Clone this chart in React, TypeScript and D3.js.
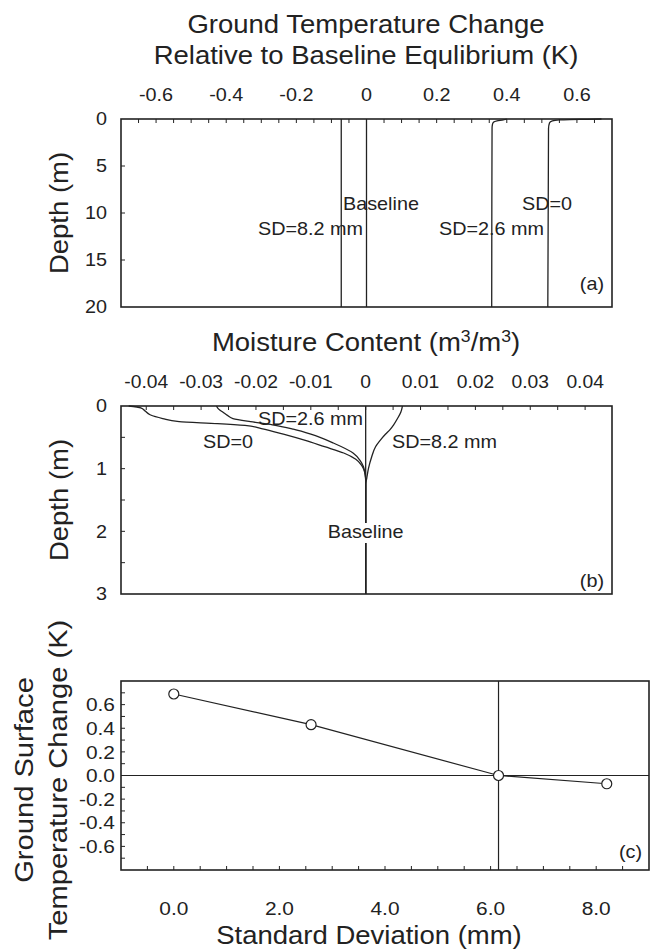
import React from "react";
import * as d3 from "d3";

// ---------- data ----------
// Panel (a): ground temperature change vs depth
const tempTickValues = [-0.6, -0.4, -0.2, 0, 0.2, 0.4, 0.6];
const tempTickLabels = ["-0.6", "-0.4", "-0.2", "0", "0.2", "0.4", "0.6"];
const depthATickValues = [0, 5, 10, 15, 20];
const depthATickLabels = ["0", "5", "10", "15", "20"];

const tBaseDepth = [0, 20];
const tBaseVal = [0, 0];
const tSD0Depth = [0, 0.03, 0.06, 0.1, 0.2, 0.4, 1, 20];
const tSD0Val = [0.67, 0.63, 0.58, 0.55, 0.53, 0.522, 0.519, 0.517];
const tSD26Depth = [0, 0.1, 0.2, 0.35, 0.6, 1, 20];
const tSD26Val = [0.4, 0.39, 0.372, 0.362, 0.359, 0.358, 0.357];
const tSD82Depth = [0, 20];
const tSD82Val = [-0.072, -0.072];

// Panel (b): moisture content change vs depth
const moistTickValues = [-0.04, -0.03, -0.02, -0.01, 0, 0.01, 0.02, 0.03, 0.04];
const moistTickLabels = ["-0.04", "-0.03", "-0.02", "-0.01", "0", "0.01", "0.02", "0.03", "0.04"];
const depthBTickValues = [0, 1, 2, 3];
const depthBTickLabels = ["0", "1", "2", "3"];

const mBaseDepth = [0, 3];
const mBaseVal = [0, 0];
const mSD0Depth = [0, 0.03, 0.08, 0.14, 0.2, 0.25, 0.28, 0.31, 0.36, 0.45, 0.55, 0.65, 0.75, 0.85, 0.95, 1.05, 1.15, 3];
const mSD0Val = [-0.0432, -0.041, -0.0402, -0.0393, -0.037, -0.034, -0.027, -0.022, -0.019, -0.015, -0.011, -0.0075, -0.004, -0.0018, -0.0007, -0.0002, 0, 0];
const mSD26Depth = [0, 0.05, 0.1, 0.15, 0.2, 0.25, 0.3, 0.37, 0.45, 0.59, 0.75, 0.87, 0.97, 1.1, 1.2, 3];
const mSD26Val = [-0.0272, -0.0268, -0.026, -0.0252, -0.0242, -0.021, -0.017, -0.0132, -0.01, -0.0059, -0.0023, -0.001, -0.0004, -0.0001, 0, 0];
const mSD82Depth = [0, 0.1, 0.2, 0.3, 0.38, 0.45, 0.52, 0.65, 0.81, 1.0, 1.15, 1.25, 3];
const mSD82Val = [0.0067, 0.0064, 0.0058, 0.0051, 0.0044, 0.0036, 0.0029, 0.0018, 0.0011, 0.0005, 0.0002, 0, 0];

// Panel (c): ground surface temperature change vs SD
const sdValues = [0, 2.6, 6.15, 8.2];
const dTValues = [0.69, 0.43, 0.0, -0.07];
const crossSD = 6.15;
const sdTickValues = [0, 2, 4, 6, 8];
const sdTickLabels = ["0.0", "2.0", "4.0", "6.0", "8.0"];
const dTTickValues = [0.6, 0.4, 0.2, 0, -0.2, -0.4, -0.6];
const dTTickLabels = ["0.6", "0.4", "0.2", "0.0", "-0.2", "-0.4", "-0.6"];

// ---------- style ----------
const FONT = "'Liberation Sans', Arial, Helvetica, sans-serif";
const INK = "#222";
const SX = 1.1;

type TP = {
  x: number; y: number; size: number; anchor?: "start" | "middle" | "end";
  rot?: number; children: React.ReactNode; central?: boolean;
};
function T({ x, y, size, anchor = "start", rot = 0, children, central }: TP) {
  return (
    <text
      transform={`translate(${x},${y}) rotate(${rot}) scale(${SX},1)`}
      fontSize={size}
      fontFamily={FONT}
      fill={INK}
      textAnchor={anchor}
      dy={central ? "0.35em" : undefined}
    >
      {children}
    </text>
  );
}

function zip(d: number[], v: number[]) {
  return d.map((dd, i) => ({ d: dd, v: v[i] }));
}

export default function App() {
  // Panel frames
  const L = 121, R = 612;
  const aTop = 119, aBot = 307;
  const bTop = 406, bBot = 594;
  const cL = 121, cR = 649, cTop = 681, cBot = 870;

  const xA = d3.scaleLinear().domain([-0.7, 0.7]).range([L, R]);
  const yA = d3.scaleLinear().domain([0, 20]).range([aTop, aBot]);
  const xB = d3.scaleLinear().domain([-0.0446, 0.0449]).range([L, R]);
  const yB = d3.scaleLinear().domain([0, 3]).range([bTop, bBot]);
  const xC = d3.scaleLinear().domain([-1, 9]).range([cL, cR]);
  const yC = d3.scaleLinear().domain([-0.8, 0.8]).range([cBot, cTop]);

  const lineA = d3.line<{ d: number; v: number }>().x((p) => xA(p.v)).y((p) => yA(p.d)).curve(d3.curveMonotoneY);
  const lineB = d3.line<{ d: number; v: number }>().x((p) => xB(p.v)).y((p) => yB(p.d)).curve(d3.curveMonotoneY);
  const lineC = d3.line<number>().x((_, i) => xC(sdValues[i])).y((v) => yC(v));

  const aSeries = [
    zip(tBaseDepth, tBaseVal),
    zip(tSD0Depth, tSD0Val),
    zip(tSD26Depth, tSD26Val),
    zip(tSD82Depth, tSD82Val),
  ];
  const bSeries = [
    zip(mBaseDepth, mBaseVal),
    zip(mSD0Depth, mSD0Val),
    zip(mSD26Depth, mSD26Val),
    zip(mSD82Depth, mSD82Val),
  ];

  const aMinor = d3.range(-0.65, 0.66, 0.05);
  const bMinor = d3.range(-0.04, 0.0441, 0.005);
  const aYMinor = [5, 10, 15];
  const bYMinor = [0.5, 1, 1.5, 2, 2.5];
  const cXMinor = d3.range(-0.5, 8.6, 0.5);
  const cYMinor = d3.range(-0.7, 0.71, 0.1);
  const TK = 4;

  const bBaselineX = xB(0);
  const bBaselineY = 538;

  return (
    <svg width={660} height={952} style={{ position: "absolute", left: 0, top: 0 }}>
      <rect width={660} height={952} fill="#fff" />

      {/* ===== Panel (a) ===== */}
      <T x={366} y={33} size={25} anchor="middle">Ground Temperature Change</T>
      <T x={366} y={64} size={25} anchor="middle">Relative to Baseline Equlibrium (K)</T>
      {tempTickValues.map((v, i) => (
        <T key={"at" + i} x={xA(v)} y={101} size={18} anchor="middle">{tempTickLabels[i]}</T>
      ))}
      {aMinor.map((v, i) => (
        <line key={"am" + i} x1={xA(v)} x2={xA(v)} y1={aTop} y2={aTop + TK} stroke={INK} strokeWidth={1} />
      ))}
      {aYMinor.map((v, i) => (
        <line key={"aym" + i} x1={L} x2={L + TK} y1={yA(v)} y2={yA(v)} stroke={INK} strokeWidth={1} />
      ))}
      {depthATickValues.map((v, i) => (
        <T key={"ay" + i} x={107} y={yA(v)} size={18} anchor="end" central>{depthATickLabels[i]}</T>
      ))}
      <T x={68} y={(aTop + aBot) / 2} size={25} anchor="middle" rot={-90}>Depth (m)</T>
      {aSeries.map((s, i) => (
        <path key={"as" + i} d={lineA(s) || ""} fill="none" stroke={INK} strokeWidth={1.3} />
      ))}
      <rect x={L} y={aTop} width={R - L} height={aBot - aTop} fill="none" stroke={INK} strokeWidth={1.6} />
      <T x={343} y={210} size={18}>Baseline</T>
      <T x={363} y={235} size={18} anchor="end">SD=8.2 mm</T>
      <T x={439} y={235} size={18}>SD=2.6 mm</T>
      <T x={522} y={210} size={18}>SD=0</T>
      <T x={604} y={290} size={18} anchor="end">(a)</T>

      {/* ===== Panel (b) ===== */}
      <text
        transform={`translate(366,351) scale(${SX},1)`}
        fontSize={25}
        fontFamily={FONT}
        fill={INK}
        textAnchor="middle"
      >
        Moisture Content (m
        <tspan fontSize={16} dy={-9}>3</tspan>
        <tspan dy={9}>/m</tspan>
        <tspan fontSize={16} dy={-9}>3</tspan>
        <tspan dy={9}>)</tspan>
      </text>
      {moistTickValues.map((v, i) => (
        <T key={"bt" + i} x={xB(v)} y={388} size={17.5} anchor="middle">{moistTickLabels[i]}</T>
      ))}
      {bMinor.map((v, i) => (
        <line key={"bm" + i} x1={xB(v)} x2={xB(v)} y1={bTop} y2={bTop + TK} stroke={INK} strokeWidth={1} />
      ))}
      {bYMinor.map((v, i) => (
        <line key={"bym" + i} x1={L} x2={L + TK} y1={yB(v)} y2={yB(v)} stroke={INK} strokeWidth={1} />
      ))}
      {depthBTickValues.map((v, i) => (
        <T key={"by" + i} x={107} y={yB(v)} size={18} anchor="end" central>{depthBTickLabels[i]}</T>
      ))}
      <T x={68} y={(bTop + bBot) / 2} size={25} anchor="middle" rot={-90}>Depth (m)</T>
      {bSeries.map((s, i) => (
        <path key={"bs" + i} d={lineB(s) || ""} fill="none" stroke={INK} strokeWidth={1.3} />
      ))}
      <rect x={bBaselineX - 38} y={bBaselineY - 15} width={76} height={20} fill="#fff" />
      <rect x={L} y={bTop} width={R - L} height={bBot - bTop} fill="none" stroke={INK} strokeWidth={1.6} />
      <T x={bBaselineX} y={bBaselineY} size={18} anchor="middle">Baseline</T>
      <T x={363} y={425} size={18} anchor="end">SD=2.6 mm</T>
      <T x={203} y={448} size={18}>SD=0</T>
      <T x={392} y={448} size={18}>SD=8.2 mm</T>
      <T x={604} y={587} size={18} anchor="end">(b)</T>

      {/* ===== Panel (c) ===== */}
      <line x1={cL} x2={cR} y1={yC(0)} y2={yC(0)} stroke={INK} strokeWidth={1.2} />
      <line x1={xC(crossSD)} x2={xC(crossSD)} y1={cTop} y2={cBot} stroke={INK} strokeWidth={1.2} />
      <path d={lineC(dTValues) || ""} fill="none" stroke={INK} strokeWidth={1.2} />
      {dTValues.map((v, i) => (
        <circle key={"cp" + i} cx={xC(sdValues[i])} cy={yC(v)} r={5} fill="#fff" stroke={INK} strokeWidth={1.2} />
      ))}
      {cXMinor.map((v, i) => (
        <line key={"cxm" + i} x1={xC(v)} x2={xC(v)} y1={cBot} y2={cBot - TK} stroke={INK} strokeWidth={1} />
      ))}
      {cYMinor.map((v, i) => (
        <line key={"cym" + i} x1={cL} x2={cL + TK} y1={yC(v)} y2={yC(v)} stroke={INK} strokeWidth={1} />
      ))}
      <rect x={cL} y={cTop} width={cR - cL} height={cBot - cTop} fill="none" stroke={INK} strokeWidth={1.6} />
      {sdTickValues.map((v, i) => (
        <T key={"cx" + i} x={xC(v)} y={915} size={19} anchor="middle">{sdTickLabels[i]}</T>
      ))}
      {dTTickValues.map((v, i) => (
        <T key={"cy" + i} x={115} y={yC(v)} size={19} anchor="end" central>{dTTickLabels[i]}</T>
      ))}
      <T x={33} y={780} size={26.5} anchor="middle" rot={-90}>Ground Surface</T>
      <T x={67} y={780} size={26.5} anchor="middle" rot={-90}>Temperature Change (K)</T>
      <T x={369} y={944} size={25} anchor="middle">Standard Deviation (mm)</T>
      <T x={642} y={858} size={18} anchor="end">(c)</T>
    </svg>
  );
}
